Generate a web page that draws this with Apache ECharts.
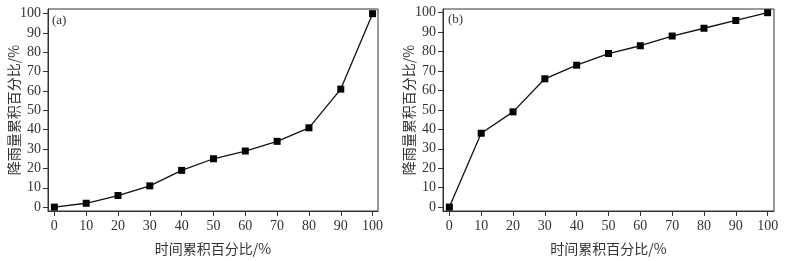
<!DOCTYPE html>
<html>
<head>
<meta charset="utf-8">
<script src="https://cdn.jsdelivr.net/npm/echarts@6/dist/echarts.min.js"></script>
<style>
  html, body { margin: 0; padding: 0; background: #fff; }
  #main { width: 789px; height: 261px; }
</style>
</head>
<body>
<div id="main"></div>
<script>
// 时间累积百分比 / 降雨量累积百分比
var timePct = [0, 10, 20, 30, 40, 50, 60, 70, 80, 90, 100];
var rainA = [0, 2, 6, 11, 19, 25, 29, 34, 41, 61, 100];
var rainB = [0, 38, 49, 66, 73, 79, 83, 88, 92, 96, 100];
var tickVals = [0, 10, 20, 30, 40, 50, 60, 70, 80, 90, 100];

var numFont = '"Liberation Serif", "DejaVu Serif", serif';
var cjkFont = '"Noto Sans CJK SC", sans-serif';
var txtColor = '#333';

function pairs(xs, ys) {
    var out = [];
    for (var i = 0; i < xs.length; i++) out.push([xs[i], ys[i]]);
    return out;
}

function xAxisOf(idx, max) {
    return {
        type: 'value',
        gridIndex: idx,
        min: -2,
        max: max,
        name: '时间累积百分比/%',
        nameLocation: 'middle',
        nameGap: 31,
        nameMoveOverlap: false,
        nameTextStyle: { fontFamily: cjkFont, fontSize: 14, color: txtColor },
        splitLine: { show: false },
        axisLine: { show: true, onZero: false, lineStyle: { color: '#333', width: 1 } },
        axisTick: { show: true, inside: false, length: 5, customValues: tickVals, lineStyle: { color: '#333' } },
        axisLabel: { customValues: tickVals, margin: 8, fontFamily: numFont, fontSize: 14, color: txtColor }
    };
}

function yAxisOf(idx, max) {
    return {
        type: 'value',
        gridIndex: idx,
        min: -2,
        max: max,
        name: '降雨量累积百分比/%',
        nameLocation: 'middle',
        nameGap: 27,
        nameMoveOverlap: false,
        nameTextStyle: { fontFamily: cjkFont, fontSize: 14, color: txtColor },
        splitLine: { show: false },
        axisLine: { show: true, onZero: false, lineStyle: { color: '#333', width: 1 } },
        axisTick: { show: true, inside: false, length: 5, customValues: tickVals, lineStyle: { color: '#333' } },
        axisLabel: { customValues: tickVals, margin: 7, fontFamily: numFont, fontSize: 14, color: txtColor }
    };
}

function seriesOf(idx, ys) {
    return {
        type: 'line',
        xAxisIndex: idx,
        yAxisIndex: idx,
        data: pairs(timePct, ys),
        symbol: 'rect',
        symbolSize: 7,
        lineStyle: { color: '#111', width: 1.3 },
        itemStyle: { color: '#000' },
        animation: false
    };
}

var chart = echarts.init(document.getElementById('main'));
var option = {
    backgroundColor: '#fff',
    animation: false,
    grid: [
        { left: 48, top: 9, width: 330, height: 206, show: true, borderColor: '#333', borderWidth: 1 },
        { left: 443, top: 9, width: 331, height: 205, show: true, borderColor: '#333', borderWidth: 1 }
    ],
    xAxis: [xAxisOf(0, 101.7), xAxisOf(1, 102)],
    yAxis: [yAxisOf(0, 102.4), yAxisOf(1, 101.9)],
    series: [seriesOf(0, rainA), seriesOf(1, rainB)],
    graphic: [
        { type: 'text', left: 52, top: 14, style: { text: '(a)', font: '13px ' + numFont, fill: txtColor } },
        { type: 'text', left: 448, top: 13, style: { text: '(b)', font: '13px ' + numFont, fill: txtColor } }
    ]
};
chart.setOption(option);
</script>
</body>
</html>
